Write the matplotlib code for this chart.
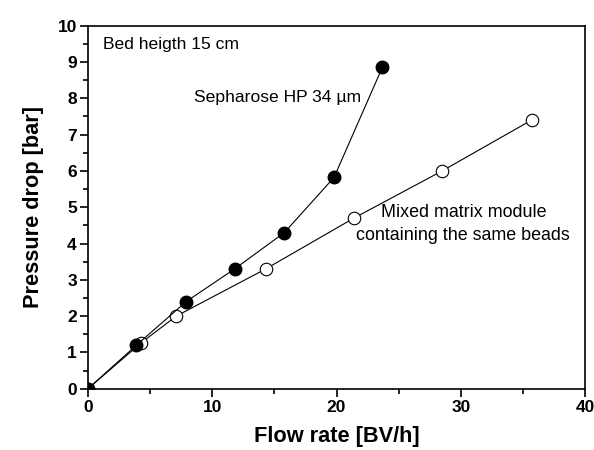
import matplotlib.pyplot as plt
from matplotlib.ticker import MultipleLocator

plt.rcParams['font.family'] = ['Liberation Sans', 'DejaVu Sans']

# Sepharose HP 34 um (filled)
sep_flow = [0, 3.9, 7.9, 11.8, 15.8, 19.8, 23.7]
sep_dp = [0, 1.2, 2.4, 3.3, 4.3, 5.82, 8.86]

# Mixed matrix module (open)
mm_flow = [0, 4.3, 7.1, 14.3, 21.4, 28.5, 35.7]
mm_dp = [0, 1.27, 2.0, 3.3, 4.7, 6.0, 7.4]

fig = plt.figure(figsize=(5.94, 4.5), dpi=100)
ax = fig.add_axes([0.148, 0.136, 0.837, 0.807])

ax.plot(mm_flow, mm_dp, '-o', color='black', lw=0.8, ms=9,
        mfc='white', mec='black', mew=0.8, zorder=3)
ax.plot(sep_flow, sep_dp, '-o', color='black', lw=0.8, ms=9,
        mfc='black', mec='black', zorder=4)

ax.set_xlim(0, 40)
ax.set_ylim(0, 10)
ax.xaxis.set_major_locator(MultipleLocator(10))
ax.xaxis.set_minor_locator(MultipleLocator(5))
ax.yaxis.set_major_locator(MultipleLocator(1))
ax.yaxis.set_minor_locator(MultipleLocator(0.5))
ax.tick_params(which='both', direction='out', width=1.2, top=False, right=False)
ax.tick_params(which='major', length=6, labelsize=12.5, pad=2)
ax.tick_params(which='minor', length=3.5)
for lab in ax.get_xticklabels() + ax.get_yticklabels():
    lab.set_fontweight('bold')
for s in ax.spines.values():
    s.set_linewidth(1.2)

ax.set_xlabel('Flow rate [BV/h]', fontsize=15.7, fontweight='bold', labelpad=8)
ax.set_ylabel('Pressure drop [bar]', fontsize=15.7, fontweight='bold', labelpad=10)

ax.text(1.2, 9.48, 'Bed heigth 15 cm', fontsize=12.6, va='center')
ax.text(8.5, 8.02, 'Sepharose HP 34 µm', fontsize=12.6, va='center')
ax.text(30.2, 4.53, 'Mixed matrix module\ncontaining the same beads',
        fontsize=12.9, ha='center', va='center', linespacing=1.45)

fig.savefig('out.png', dpi=100)
